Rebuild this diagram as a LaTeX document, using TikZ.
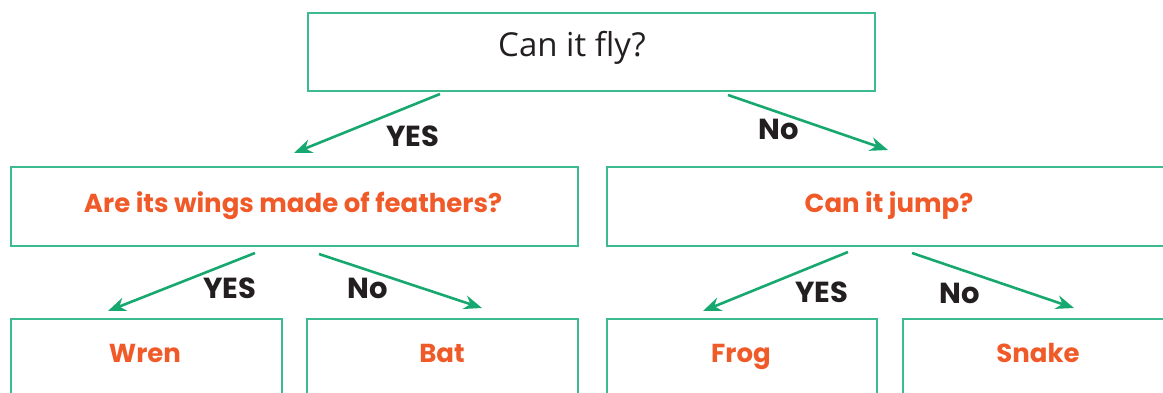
\documentclass[tikz,border=0pt]{standalone}
\usepackage{fontspec}
\setmainfont{Poppins}
\newfontfamily\qfont{Open Sans}
\usetikzlibrary{arrows.meta}
\definecolor{boxc}{HTML}{3DBB8F}
\definecolor{arrc}{HTML}{17A870}
\definecolor{ansc}{HTML}{F05A28}
\definecolor{labc}{HTML}{231F20}
\begin{document}
\begin{tikzpicture}[x=1pt,y=-1pt,
  qbox/.style={draw=boxc,line width=1.6pt,anchor=north west,inner sep=0pt},
  ans/.style={text=ansc,anchor=base,inner sep=0pt,font=\fontsize{26}{30}\selectfont\bfseries},
  lab/.style={text=labc,anchor=base,inner sep=0pt,font=\fontsize{29}{33}\selectfont\bfseries},
  arr/.style={draw=arrc,line width=2.6pt,-{Stealth[length=18pt,width=14pt]}}]
\useasboundingbox (0,0) rectangle (1163,392);
% boxes
\node[qbox,minimum width=567pt,minimum height=78pt] (top) at (307,12) {};
\node[qbox,minimum width=567pt,minimum height=79pt] (l2a) at (10,166) {};
\node[qbox,minimum width=560pt,minimum height=79pt] (l2b) at (606,166) {};
\node[qbox,minimum width=271pt,minimum height=90pt] (b1) at (10,318) {};
\node[qbox,minimum width=271pt,minimum height=90pt] (b2) at (306,318) {};
\node[qbox,minimum width=270pt,minimum height=90pt] (b3) at (606,318) {};
\node[qbox,minimum width=270pt,minimum height=90pt] (b4) at (902,318) {};
% texts
\node[text=labc,anchor=base,inner sep=0pt,font=\qfont\fontsize{33}{38}\selectfont] (ttop) at (572,56) {Can it fly?};
\node[ans] (t2a) at (293,212) {Are its wings made of feathers?};
\node[ans] (t2b) at (889,212) {Can it jump?};
\node[ans] (t1) at (145,362) {Wren};
\node[ans] (t2) at (442,362) {Bat};
\node[ans] (t3) at (741,362) {Frog};
\node[ans] (t4) at (1038,362) {Snake};
% arrow ends
\coordinate (s1) at (440,94); \coordinate (e1) at (294,153);
\coordinate (s2) at (728,95); \coordinate (e2) at (888,150);
\coordinate (s3) at (255,253); \coordinate (e3) at (108,311);
\coordinate (s4) at (319,254); \coordinate (e4) at (482,308);
\coordinate (s5) at (848,252); \coordinate (e5) at (703,311);
\coordinate (s6) at (912,253); \coordinate (e6) at (1074,308);
\draw[arr] (s1) -- (e1);
\draw[arr] (s2) -- (e2);
\draw[arr] (s3) -- (e3);
\draw[arr] (s4) -- (e4);
\draw[arr] (s5) -- (e5);
\draw[arr] (s6) -- (e6);
% labels
\node[lab] (y1) at (413,146) {YES};
\node[lab] (n1) at (779,139) {No};
\node[lab] (y2) at (230,298) {YES};
\node[lab] (n2) at (368,298) {No};
\node[lab] (y3) at (822,302) {YES};
\node[lab] (n3) at (960,303) {No};
\end{tikzpicture}
\end{document}
